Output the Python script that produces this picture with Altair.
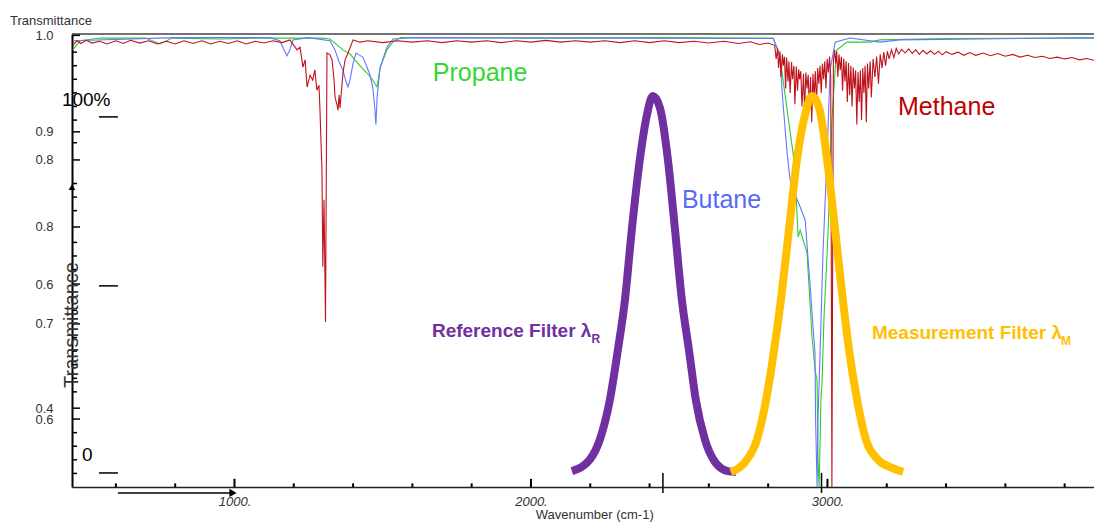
import altair as alt
import pandas as pd

# ---------------- data (wavenumber cm-1, transmittance) ----------------
propane = [(455, 0.965), (479, 0.985), (546, 0.991), (700, 0.991), (749, 0.978), (790, 0.991),
           (950, 0.989), (1100, 0.991), (1300, 0.991), (1322, 0.989), (1346, 0.976), (1366, 0.965),
           (1390, 0.956), (1406, 0.943), (1423, 0.930), (1445, 0.915), (1465, 0.900), (1481, 0.883),
           (1491, 0.925), (1514, 0.965), (1535, 0.983), (1560, 0.992), (2000, 0.991), (2400, 0.992),
           (2750, 0.991), (2817, 0.991), (2840, 0.949), (2864, 0.832), (2884, 0.737), (2891, 0.689),
           (2901, 0.552), (2908, 0.567), (2931, 0.517), (2948, 0.331), (2958, 0.258), (2965, 0.236),
           (2968, 0.060), (2972, 0.0), (2978, 0.192), (2982, 0.236), (2988, 0.369), (2999, 0.517),
           (3009, 0.678), (3015, 0.810), (3026, 0.921), (3032, 0.965), (3066, 0.982), (3143, 0.982),
           (3177, 0.987), (3400, 0.990), (3899, 0.991)]

butane = [(455, 0.985), (800, 0.992), (1120, 0.992), (1153, 0.985), (1165, 0.968), (1177, 0.952),
          (1187, 0.965), (1197, 0.987), (1250, 0.992), (1322, 0.985), (1339, 0.965), (1352, 0.940),
          (1366, 0.920), (1376, 0.895), (1383, 0.883), (1390, 0.900), (1400, 0.935), (1410, 0.958),
          (1417, 0.955), (1433, 0.949), (1445, 0.930), (1457, 0.910), (1467, 0.880), (1474, 0.830),
          (1477, 0.800), (1481, 0.860), (1491, 0.925), (1514, 0.971), (1535, 0.989), (1600, 0.992),
          (2817, 0.990), (2833, 0.965), (2840, 0.943), (2850, 0.848), (2864, 0.737), (2874, 0.678),
          (2891, 0.645), (2908, 0.618), (2925, 0.589), (2935, 0.500), (2942, 0.442), (2952, 0.347),
          (2958, 0.296), (2960, 0.148), (2965, 0.0), (2968, 0.148), (2975, 0.296), (2985, 0.517),
          (2999, 0.737), (3009, 0.921), (3026, 0.982), (3076, 0.991), (3177, 0.982), (3245, 0.987),
          (3899, 0.992)]

methane = [(455, 0.975), (468, 0.985), (482, 0.979), (500, 0.986), (520, 0.980), (545, 0.984),
           (570, 0.978), (600, 0.985), (625, 0.979), (650, 0.986), (680, 0.980), (710, 0.985),
           (740, 0.978), (770, 0.984), (800, 0.978), (830, 0.985), (860, 0.979), (890, 0.985),
           (920, 0.978), (950, 0.984), (980, 0.979), (1010, 0.985), (1040, 0.978), (1070, 0.984),
           (1100, 0.980), (1130, 0.985), (1160, 0.981), (1187, 0.987),
           (1211, 0.965), (1221, 0.971), (1231, 0.927), (1238, 0.943), (1245, 0.883), (1255, 0.909),
           (1264, 0.898), (1271, 0.921), (1278, 0.876), (1285, 0.887), (1288, 0.839), (1295, 0.700),
           (1298, 0.486), (1302, 0.634), (1307, 0.364), (1312, 0.958), (1322, 0.954), (1329, 0.943),
           (1336, 0.898), (1339, 0.861), (1346, 0.843), (1349, 0.832), (1353, 0.865), (1356, 0.837),
           (1359, 0.861), (1366, 0.914), (1373, 0.943), (1383, 0.958), (1400, 0.987), (1423, 0.982),
           (1450, 0.985), (1500, 0.981), (1550, 0.985), (1600, 0.982), (1650, 0.985), (1700, 0.981),
           (1750, 0.985), (1800, 0.982), (1850, 0.985), (1900, 0.981), (1950, 0.985), (2000, 0.982),
           (2050, 0.986), (2100, 0.982), (2150, 0.985), (2200, 0.982), (2250, 0.985), (2300, 0.981),
           (2350, 0.985), (2400, 0.981), (2450, 0.985), (2500, 0.981), (2550, 0.984), (2600, 0.980),
           (2650, 0.984), (2700, 0.979), (2740, 0.983), (2770, 0.977), (2800, 0.980),
           (2822, 0.975), (2827, 0.945), (2832, 0.968), (2835, 0.925), (2840, 0.962), (2843, 0.905),
           (2848, 0.955), (2851, 0.930), (2855, 0.950), (2859, 0.880), (2862, 0.948), (2867, 0.895),
           (2870, 0.940), (2874, 0.870), (2879, 0.938), (2882, 0.900), (2887, 0.930), (2890, 0.845),
           (2895, 0.928), (2899, 0.875), (2903, 0.922), (2906, 0.900), (2910, 0.918), (2914, 0.840),
           (2919, 0.912), (2923, 0.830), (2927, 0.915), (2931, 0.880), (2935, 0.910), (2939, 0.835),
           (2943, 0.905), (2947, 0.805), (2951, 0.912), (2955, 0.860), (2959, 0.918), (2963, 0.845),
           (2967, 0.925), (2971, 0.890), (2975, 0.930), (2979, 0.870), (2983, 0.935), (2987, 0.900),
           (2991, 0.940), (2995, 0.880), (2999, 0.945), (3003, 0.915), (3007, 0.950), (3011, 0.905),
           (3013, 0.500), (3015, 0.0), (3017, 0.400), (3020, 0.940),
           (3024, 0.965), (3028, 0.935), (3031, 0.962), (3035, 0.905), (3039, 0.955), (3043, 0.920),
           (3047, 0.950), (3051, 0.875), (3055, 0.946), (3059, 0.895), (3063, 0.940), (3067, 0.850),
           (3071, 0.936), (3075, 0.865), (3079, 0.930), (3083, 0.840), (3087, 0.926), (3091, 0.880),
           (3095, 0.920), (3099, 0.800), (3103, 0.916), (3107, 0.850), (3111, 0.920), (3115, 0.810),
           (3119, 0.925), (3123, 0.870), (3127, 0.930), (3131, 0.805), (3135, 0.935), (3139, 0.880),
           (3144, 0.940), (3148, 0.860), (3154, 0.945), (3160, 0.905), (3166, 0.950), (3172, 0.890),
           (3178, 0.955), (3184, 0.925), (3190, 0.960), (3196, 0.930), (3202, 0.962), (3208, 0.945),
           (3216, 0.965), (3224, 0.948), (3232, 0.968), (3240, 0.956), (3250, 0.966),
           (3262, 0.958), (3274, 0.967), (3286, 0.957), (3298, 0.965), (3310, 0.955), (3322, 0.964),
           (3335, 0.956), (3348, 0.963), (3361, 0.955), (3374, 0.962), (3387, 0.954), (3400, 0.961),
           (3420, 0.955), (3440, 0.960), (3460, 0.953), (3480, 0.959), (3500, 0.953), (3525, 0.958),
           (3550, 0.952), (3575, 0.957), (3600, 0.951), (3625, 0.955), (3650, 0.949), (3675, 0.953),
           (3700, 0.948), (3725, 0.951), (3750, 0.946), (3775, 0.949), (3800, 0.945), (3825, 0.948),
           (3850, 0.943), (3875, 0.946), (3899, 0.942)]

reference_filter = [(2138, 0.035), (2198, 0.060), (2232, 0.104), (2266, 0.192), (2293, 0.302),
                    (2317, 0.413), (2340, 0.567), (2367, 0.722), (2391, 0.821), (2411, 0.863),
                    (2435, 0.837), (2462, 0.722), (2486, 0.567), (2509, 0.413), (2533, 0.302),
                    (2556, 0.192), (2587, 0.104), (2621, 0.055), (2664, 0.035), (2691, 0.033)]

measurement_filter = [(2674, 0.033), (2722, 0.055), (2762, 0.104), (2793, 0.192), (2820, 0.302),
                      (2843, 0.413), (2870, 0.567), (2897, 0.722), (2924, 0.821), (2948, 0.863),
                      (2972, 0.837), (2999, 0.722), (3026, 0.567), (3052, 0.413), (3073, 0.302),
                      (3100, 0.192), (3130, 0.104), (3171, 0.060), (3218, 0.042), (3255, 0.033)]

# axis ticks / labels
x_label_values = [1000, 2000, 3000]
x_minor_ticks = [600, 800, 1200, 1400, 1600, 1800, 2200, 2400, 2600, 2800, 3200, 3400, 3600, 3800]
x_marker_ticks = [2445, 2980]
y_label_values = [0.997, 0.784, 0.722, 0.574, 0.448, 0.360, 0.174, 0.150]
y_label_texts = ["1.0", "0.9", "0.8", "0.8", "0.6", "0.7", "0.4", "0.6"]
y_minor_ticks = [0.03, 0.06, 0.09, 0.12, 0.21, 0.24, 0.27, 0.30, 0.33, 0.39, 0.42, 0.48, 0.51,
                 0.54, 0.61, 0.64, 0.67, 0.76, 0.81, 0.84, 0.87, 0.90, 0.93, 0.96]
dash_levels = [0.817, 0.444, 0.031]

FONT = "Liberation Sans"

# ---------------- scales / encodings ----------------
xscale = alt.Scale(domain=[452, 3899], nice=False, zero=False)
yscale = alt.Scale(domain=[0, 1], nice=False, zero=False)

y_expr = "".join(
    f"abs(datum.value - {v}) < 0.002 ? '{s}' : " for v, s in zip(y_label_values, y_label_texts)
) + "''"

xaxis = alt.Axis(values=x_label_values, labelExpr="format(datum.value, 'd') + '.'",
                 ticks=False, tickSize=0, grid=False, title=None, labelPadding=8,
                 labelFontStyle="italic", labelFontSize=13, labelColor="#333", labelFont=FONT,
                 domainColor="#222", domainWidth=1.5)
yaxis = alt.Axis(values=y_label_values, labelExpr=y_expr, ticks=False, tickSize=0, grid=False,
                 title=None, labelPadding=19, labelOverlap=False, labelFontSize=13,
                 labelColor="#333", labelFont=FONT, domainColor="black", domainWidth=2)

X = alt.X("wn:Q", scale=xscale, axis=xaxis)
Y = alt.Y("t:Q", scale=yscale, axis=yaxis)


def df_of(pairs):
    return pd.DataFrame(pairs, columns=["wn", "t"])


def line(pairs, color, width=1.1, **kw):
    return alt.Chart(df_of(pairs)).mark_line(color=color, strokeWidth=width, **kw).encode(x=X, y=Y)


def rules(rows, color="black", width=1.5):
    df = pd.DataFrame(rows, columns=["wn", "wn2", "t", "t2"])
    return alt.Chart(df).mark_rule(color=color, strokeWidth=width).encode(
        x=X, x2="wn2:Q", y=Y, y2="t2:Q")


def text(rows, **mark):
    df = pd.DataFrame(rows, columns=["wn", "t", "label"])
    return alt.Chart(df).mark_text(font=FONT, **mark).encode(x=X, y=Y, text="label:N")


layers = []
# spectra
layers.append(line(propane, "#2ecc2e"))
layers.append(line(butane, "#6677ff"))
layers.append(line(methane, "#c0121c"))

# frame top
layers.append(alt.Chart(pd.DataFrame({"t": [1.0]})).mark_rule(color="#444", strokeWidth=1.5).encode(y=Y))

# inward ticks on x axis
layers.append(rules([(v, v, 0.0, 0.008) for v in x_minor_ticks], width=2))
layers.append(rules([(v, v, 0.0, 0.018) for v in x_label_values], width=2))
layers.append(rules([(v, v, -0.013, 0.031) for v in x_marker_ticks], width=1.5))
# inward ticks on y axis
layers.append(rules([(452, 469, v, v) for v in y_minor_ticks], width=1.5))
layers.append(rules([(452, 479, v, v) for v in y_label_values], width=1.5))
# short dashes
layers.append(rules([(543, 607, v, v) for v in dash_levels], width=1.5))
# arrow below x axis
layers.append(rules([(607, 995, -0.013, -0.013)], width=1.5))
layers.append(alt.Chart(df_of([(995, -0.013)])).mark_point(
    shape="triangle-right", filled=True, color="black", size=70, opacity=1).encode(x=X, y=Y))
# arrow on y axis
layers.append(alt.Chart(df_of([(452, 0.662)])).mark_point(
    shape="triangle-up", filled=True, color="black", size=45, opacity=1).encode(x=X, y=Y))

# filters
layers.append(line(reference_filter, "#7030a0", width=8, interpolate="monotone", strokeCap="butt"))
layers.append(line(measurement_filter, "#ffc000", width=8, interpolate="monotone", strokeCap="butt"))

# texts
layers.append(text([(1669, 0.914, "Propane")], color="#33d633", fontSize=25, align="left", baseline="middle"))
layers.append(text([(2509, 0.634, "Butane")], color="#5a6af5", fontSize=25, align="left", baseline="middle"))
layers.append(text([(3238, 0.839, "Methane")], color="#c00000", fontSize=25, align="left", baseline="middle"))
layers.append(text([(1666, 0.344, "Reference Filter λ")], color="#7030a0", fontSize=19,
                   fontWeight="bold", align="left", baseline="middle"))
layers.append(text([(2204, 0.326, "R")], color="#7030a0", fontSize=12, fontWeight="bold",
                   align="left", baseline="middle"))
layers.append(text([(3150, 0.340, "Measurement Filter λ")], color="#ffc000", fontSize=19,
                   fontWeight="bold", align="left", baseline="middle"))
layers.append(text([(3788, 0.322, "M")], color="#ffc000", fontSize=12, fontWeight="bold",
                   align="left", baseline="middle"))
layers.append(text([(418, 0.854, "100%"), (486, 0.071, "0")], color="black", fontSize=19,
                   align="left", baseline="middle"))
layers.append(text([(243, 1.029, "Transmittance")], color="#333", fontSize=13,
                   align="left", baseline="middle"))
layers.append(text([(2215, -0.062, "Wavenumber (cm-1)")], color="#333", fontSize=13,
                   align="center", baseline="middle"))
layers.append(text([(452, 0.362, "Transmittance")], color="#333", fontSize=20, angle=270,
                   align="center", baseline="middle", dx=-2))

chart = alt.layer(*layers).properties(
    width=1022, height=453,
    autosize=alt.AutoSizeParams(type="none"),
    padding={"left": 64, "top": 26, "right": 0, "bottom": 36},
).configure_view(stroke=None)

chart.save("out.html", embed_options={"renderer": "svg", "actions": False})
